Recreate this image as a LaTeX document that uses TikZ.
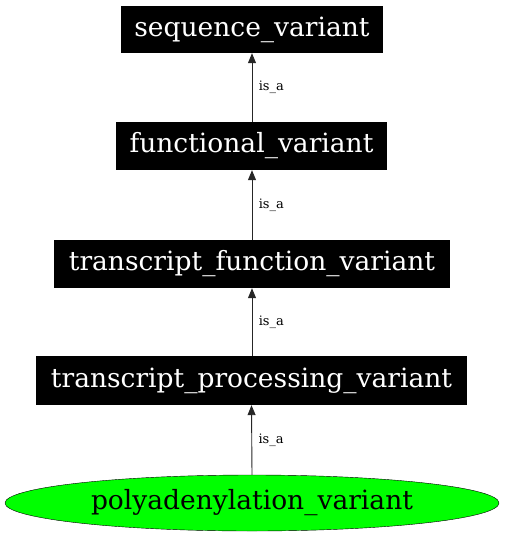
\documentclass[tikz,border=0pt]{standalone}
\usepackage{fontspec}
\setmainfont{DejaVu Serif}
\usetikzlibrary{shapes.geometric,arrows.meta}
\begin{document}
\begin{tikzpicture}[x=1pt,y=-1pt,
  blk/.style={fill=black,text=white,inner sep=0pt,font=\fontsize{26.5}{30}\selectfont},
  ell/.style={ellipse,draw=black,fill=green,text=black,inner sep=0pt,font=\fontsize{26.5}{30}\selectfont,minimum width=494pt,minimum height=56pt},
  edge/.style={draw=black!85,line width=0.9pt,-{Triangle[length=10pt,width=8pt]}},
  lbl/.style={font=\fontsize{13}{15}\selectfont,anchor=west}]
\useasboundingbox (0,0) rectangle (504,536);
\node[blk,minimum width=262pt,minimum height=47pt] (sv) at (252,29.5) {sequence\_variant};
\node[blk,minimum width=271pt,minimum height=48pt] (fv) at (251.5,146) {functional\_variant};
\node[blk,minimum width=396pt,minimum height=48pt] (tfv) at (252,264) {transcript\_function\_variant};
\node[blk,minimum width=431pt,minimum height=49pt] (tpv) at (251.5,380.5) {transcript\_processing\_variant};
\node[ell] (pv) at (252,503) {polyadenylation\_variant};
\draw[edge] (pv.north) -- (tpv.south) node[pos=0.5,lbl,xshift=3pt] {is\_a};
\draw[edge] (tpv.north -| 252,0) -- (tfv.south) node[pos=0.5,lbl,xshift=3pt] {is\_a};
\draw[edge] (tfv.north) -- (fv.south -| 252,0) node[pos=0.5,lbl,xshift=3pt] {is\_a};
\draw[edge] (fv.north -| 252,0) -- (sv.south) node[pos=0.5,lbl,xshift=3pt] {is\_a};
\end{tikzpicture}
\end{document}
